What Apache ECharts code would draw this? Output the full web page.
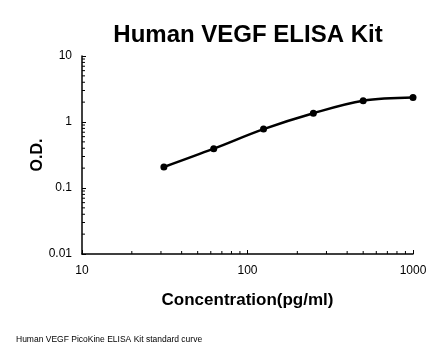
<!DOCTYPE html>
<html><head><meta charset="utf-8">
<script src="https://cdn.jsdelivr.net/npm/echarts@6/dist/echarts.min.js"></script>
<style>html,body{margin:0;padding:0;background:#fff}#c{width:446px;height:356px}</style>
</head><body><div id="c"></div>
<script>
var concentrations = [31.25, 62.5, 125, 250, 500, 1000];
var odValues = [0.208, 0.394, 0.78, 1.36, 2.10, 2.35];
var xMinorTicks = [20, 30, 40, 50, 60, 70, 80, 90, 200, 300, 400, 500, 600, 700, 800, 900];
var yMinorTicks = [0.02, 0.03, 0.04, 0.05, 0.06, 0.07, 0.08, 0.09, 0.2, 0.3, 0.4, 0.5, 0.6, 0.7, 0.8, 0.9, 2, 3, 4, 5, 6, 7, 8, 9];
var xMin = 10, xMax = 1000, yMin = 0.01, yMax = 10;

var chart = echarts.init(document.getElementById('c'));
var font = '"Liberation Sans", Arial, sans-serif';
function plain(v) { return String(+(+v).toPrecision(3)); }
chart.setOption({
  animation: false,
  title: [{
    text: 'Human VEGF ELISA Kit', left: 248, top: 23, textAlign: 'center', padding: 0,
    textStyle: {fontFamily: font, fontWeight: 'bold', fontSize: 24, color: '#000'}
  }, {
    text: 'Human VEGF PicoKine ELISA Kit standard curve', left: 16, top: 335, padding: 0,
    textStyle: {fontFamily: font, fontWeight: 'normal', fontSize: 8.5, color: '#000'}
  }],
  grid: {left: 82, right: 33, top: 56, bottom: 102},
  xAxis: {
    type: 'log', logBase: 10, min: xMin, max: xMax,
    name: 'Concentration(pg/ml)', nameLocation: 'middle', nameGap: 38, nameMoveOverlap: false,
    nameTextStyle: {fontFamily: font, fontWeight: 'bold', fontSize: 17, color: '#000'},
    axisLine: {lineStyle: {color: '#000', width: 1.5}},
    axisTick: {inside: true, length: 4, lineStyle: {color: '#000', width: 1}},
    axisLabel: {fontFamily: font, fontSize: 12, color: '#000', margin: 11, formatter: plain},
    splitLine: {show: false}
  },
  yAxis: {
    type: 'log', logBase: 10, min: yMin, max: yMax,
    name: 'O.D.', nameLocation: 'middle', nameGap: 36, nameMoveOverlap: false,
    nameTextStyle: {fontFamily: font, fontWeight: 'bold', fontSize: 16, color: '#000'},
    axisLine: {show: true, lineStyle: {color: '#000', width: 1.5}},
    axisTick: {show: true, inside: true, length: 4, lineStyle: {color: '#000', width: 1}},
    axisLabel: {fontFamily: font, fontSize: 12, color: '#000', margin: 10, formatter: plain},
    splitLine: {show: false}
  },
  series: [{
    type: 'line', data: concentrations.map(function (c, i) { return [c, odValues[i]]; }),
    smooth: 0.35, symbol: 'circle', symbolSize: 7,
    lineStyle: {color: '#000', width: 2.5}, itemStyle: {color: '#000'}, z: 5
  }, {
    type: 'custom', silent: true,
    data: xMinorTicks.map(function (v) { return [v, yMin]; }),
    renderItem: function (params, api) {
      var p = api.coord([api.value(0), yMin]);
      return {type: 'line', shape: {x1: p[0], y1: p[1], x2: p[0], y2: p[1] - 3},
        style: {stroke: '#000', lineWidth: 1}};
    }
  }, {
    type: 'custom', silent: true,
    data: yMinorTicks.map(function (v) { return [xMin, v]; }),
    renderItem: function (params, api) {
      var p = api.coord([xMin, api.value(1)]);
      return {type: 'line', shape: {x1: p[0], y1: p[1], x2: p[0] + 3, y2: p[1]},
        style: {stroke: '#000', lineWidth: 1}};
    }
  }]
});
</script></body></html>
